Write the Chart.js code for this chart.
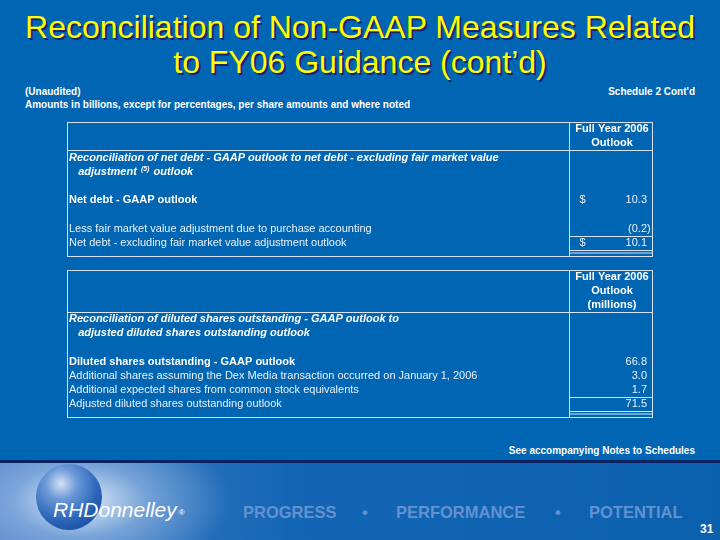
<!DOCTYPE html>
<html>
<head>
<meta charset="utf-8">
<script src="https://cdn.jsdelivr.net/npm/chart.js@4.4.1/dist/chart.umd.min.js"></script>
<style>
html, body { margin: 0; padding: 0; }
body { width: 720px; height: 540px; position: relative; overflow: hidden; background: #0066b3; font-family: "Liberation Sans", Arial, sans-serif; color: #fff; }
.title { position: absolute; left: 0; top: 10px; width: 720px; text-align: center; font-size: 32px; line-height: 35px; color: #ffff00; text-shadow: 2px 2px 0 #1c2470; }
.note { position: absolute; font-size: 10px; font-weight: bold; line-height: 12px; white-space: nowrap; }
canvas { position: absolute; }
.rule { position: absolute; left: 0; top: 460px; width: 720px; height: 3px; background: #0b2262; }
.band { position: absolute; left: 0; top: 463px; width: 720px; height: 77px;
  background: radial-gradient(ellipse 150px 80px at 80px 38px, rgba(236,242,251,0.95) 0%, rgba(160,192,232,0.6) 45%, rgba(20,100,180,0) 100%),
              linear-gradient(to right, #4a80c8 0%, #1466b4 40%, #0b60ad 100%); }
.sphere { position: absolute; left: 36px; top: 464px; width: 66px; height: 66px; border-radius: 50%;
  background: radial-gradient(circle at 38% 30%, #d4e2f5 0%, #6d9ad8 25%, #2a64b8 60%, #0d3f90 100%); }
.logo { position: absolute; left: 53px; top: 498px; font-size: 21px; font-style: italic; line-height: 24px; color: #fff; white-space: nowrap; }
.logo sup { font-size: 8px; font-style: normal; vertical-align: 2px; margin-left: 2px; }
.tag { position: absolute; top: 502px; font-size: 16.5px; font-weight: bold; line-height: 20px; color: #6292d0; white-space: nowrap; }
.page { position: absolute; left: 700px; top: 522px; font-size: 12px; font-weight: bold; color: #fff; }
</style>
</head>
<body>
<div class="title">Reconciliation of Non-GAAP Measures Related<br>to FY06 Guidance (cont’d)</div>
<div class="note" style="left:25px; top:86px;">(Unaudited)</div>
<div class="note" style="left:25px; top:99px;">Amounts in billions, except for percentages, per share amounts and where noted</div>
<div class="note" style="right:25px; top:86px;">Schedule 2 Cont'd</div>

<canvas id="debtTable" width="600" height="152" style="left:60px; top:112px;"></canvas>
<canvas id="sharesTable" width="600" height="165" style="left:60px; top:262px;"></canvas>

<div class="note" style="right:25px; top:445px;">See accompanying Notes to Schedules</div>
<div class="rule"></div>
<div class="band"></div>
<div class="sphere"></div>
<div class="logo">RHDonnelley<sup>®</sup></div>
<div class="tag" style="left:243px;">PROGRESS</div>
<div class="tag" style="left:362px;">•</div>
<div class="tag" style="left:396px;">PERFORMANCE</div>
<div class="tag" style="left:555px;">•</div>
<div class="tag" style="left:589px;">POTENTIAL</div>
<div class="page">31</div>

<script>
// Net debt table (billions)
const debtHeader = ['Full Year 2006', 'Outlook'];
const debtLabels = [
    'Reconciliation of net debt - GAAP outlook to net debt - excluding fair market value',
    '   adjustment (5) outlook',
    '',
    'Net debt - GAAP outlook',
    '',
    'Less fair market value adjustment due to purchase accounting',
    'Net debt - excluding fair market value adjustment outlook'
];
const debtCurrency = ['', '', '', '$', '', '', '$'];
const debtValues = [null, null, null, 10.3, null, -0.2, 10.1];

// Diluted shares table (millions)
const sharesHeader = ['Full Year 2006', 'Outlook', '(millions)'];
const sharesLabels = [
    'Reconciliation of diluted shares outstanding - GAAP outlook to',
    '   adjusted diluted shares outstanding outlook',
    '',
    'Diluted shares outstanding - GAAP outlook',
    'Additional shares assuming the Dex Media transaction occurred on January 1, 2006',
    'Additional expected shares from common stock equivalents',
    'Adjusted diluted shares outstanding outlook'
];
const sharesCurrency = ['', '', '', '', '', '', ''];
const sharesValues = [null, null, null, 66.8, 3.0, 1.7, 71.5];

// row kinds: i = bold italic heading, b = bold, n = plain
const debtKinds = ['i', 'i', 'n', 'b', 'n', 'n', 'n'];
const sharesKinds = ['i', 'i', 'n', 'b', 'n', 'n', 'n'];

const FONT = '"Liberation Sans", Arial, sans-serif';
const LINE = '#d6e3f3';

function fmt(v) {
    if (v < 0) return '(' + Math.abs(v).toFixed(1);
    return v.toFixed(1);
}

const tableCells = {
    id: 'tableCells',
    afterDraw(chart, args, o) {
        const ctx = chart.ctx;
        const y = chart.scales.y;
        const ca = chart.chartArea;
        const labels = chart.data.labels;
        const values = chart.data.datasets[0].data;
        const n = o.header.length;
        const step = y.getPixelForValue(1) - y.getPixelForValue(0);
        const left = Math.round(ca.left) + 0.5;
        const right = Math.round(ca.right) - 0.5;
        const top = Math.round(ca.top) + 0.5;
        const bottom = Math.round(ca.bottom) + 0.5;
        const boxBottom = bottom + 6;
        const divX = Math.round(ca.right - 84) + 0.5;
        const valX = ca.right - 6;

        const line = (x1, y1, x2, y2) => {
            ctx.beginPath();
            ctx.moveTo(x1, y1);
            ctx.lineTo(x2, y2);
            ctx.stroke();
        };

        ctx.save();
        ctx.strokeStyle = LINE;
        ctx.lineWidth = 1;
        ctx.strokeRect(left, top, right - left, boxBottom - top);
        line(divX, top, divX, boxBottom);
        const hy = Math.round(y.getPixelForValue(n - 1) + step / 2) + 0.5;
        line(left, hy, right, hy);
        const last = labels.length - 1;
        const ty = Math.round(y.getPixelForValue(last) - step / 2) + 0.5;
        line(divX, ty, right, ty);
        line(divX, bottom, right, bottom);
        line(divX, bottom + 2.5, right, bottom + 2.5);

        ctx.textBaseline = 'middle';
        ctx.fillStyle = '#ffffff';
        ctx.textAlign = 'center';
        ctx.font = 'bold 11px ' + FONT;
        o.header.forEach((t, i) => ctx.fillText(t, (divX + right) / 2 + 1, y.getPixelForValue(i)));

        for (let i = n; i < labels.length; i++) {
            const r = i - n;
            const py = y.getPixelForValue(i);
            const kind = o.kinds[r];
            const font = kind === 'i' ? 'italic bold 11px ' : kind === 'b' ? 'bold 11px ' : '11px ';
            ctx.fillStyle = kind === 'n' ? '#eaf0f8' : '#ffffff';
            ctx.textAlign = 'left';
            let x = ca.left + 2;
            const parts = labels[i].split(/(\(\d+\))/);
            parts.forEach(p => {
                if (/^\(\d+\)$/.test(p)) {
                    ctx.font = (kind === 'i' ? 'italic bold 7px ' : '7px ') + FONT;
                    ctx.fillText(p, x + 1, py - 3);
                    x += ctx.measureText(p).width + 2;
                } else {
                    ctx.font = font + FONT;
                    ctx.fillText(p, x, py);
                    x += ctx.measureText(p).width;
                }
            });

            const v = values[i];
            if (v !== null && v !== undefined) {
                ctx.font = '11px ' + FONT;
                ctx.fillStyle = '#eaf0f8';
                ctx.textAlign = 'right';
                ctx.fillText(fmt(v), valX, py);
                if (v < 0) {
                    ctx.textAlign = 'left';
                    ctx.fillText(')', valX, py);
                }
                if (o.currency[r]) {
                    ctx.textAlign = 'left';
                    ctx.fillText(o.currency[r], divX + 10, py);
                }
            }
        }
        ctx.restore();
    }
};

function makeTable(id, header, labels, values, currency, kinds, padTop, padBottom) {
    const ctx = document.getElementById(id).getContext('2d');
    return new Chart(ctx, {
        type: 'bar',
        data: {
            labels: header.concat(labels),
            datasets: [{
                data: header.map(() => null).concat(values),
                backgroundColor: 'rgba(0,0,0,0)',
                borderWidth: 0
            }]
        },
        options: {
            indexAxis: 'y',
            responsive: false,
            animation: false,
            events: [],
            layout: { padding: { left: 7, right: 7, top: padTop, bottom: padBottom } },
            scales: {
                x: { display: false, min: -5, max: 80 },
                y: { display: false }
            },
            plugins: {
                legend: { display: false },
                tooltip: { enabled: false },
                tableCells: { header: header, currency: currency, kinds: kinds }
            }
        },
        plugins: [tableCells]
    });
}

makeTable('debtTable', debtHeader, debtLabels, debtValues, debtCurrency, debtKinds, 9.9, 13.9);
makeTable('sharesTable', sharesHeader, sharesLabels, sharesValues, sharesCurrency, sharesKinds, 7.9, 15.9);
</script>
</body>
</html>
